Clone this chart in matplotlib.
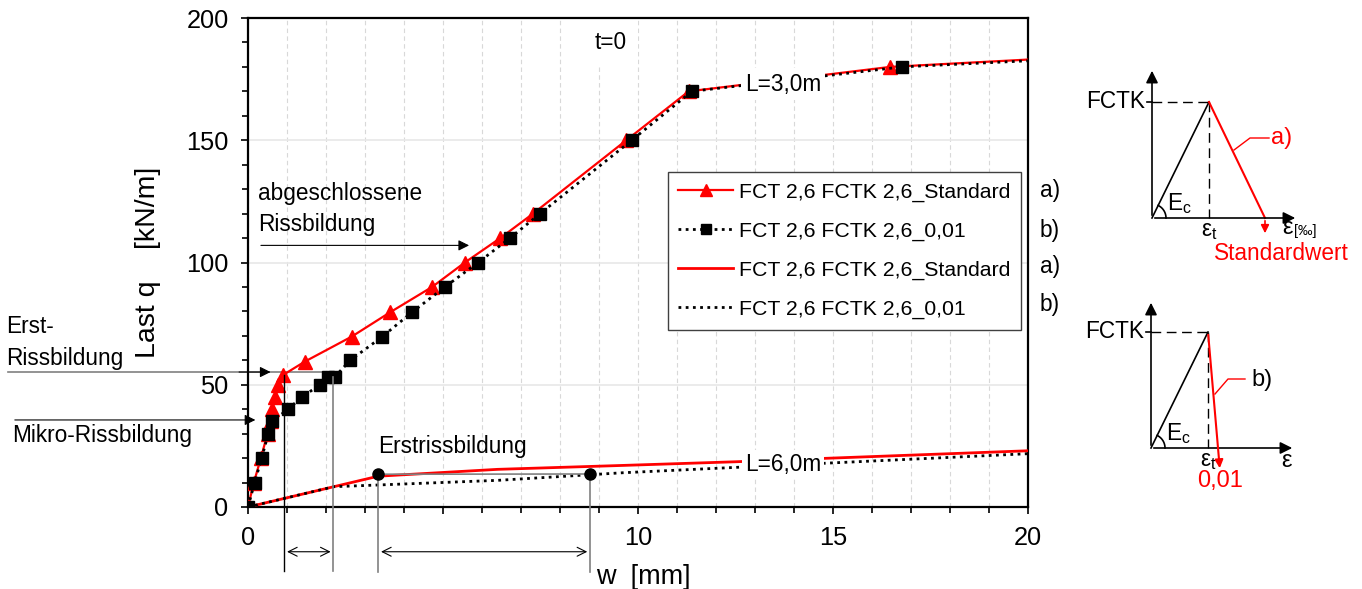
import numpy as np
import matplotlib
matplotlib.use("Agg")
import matplotlib.pyplot as plt
from matplotlib.ticker import MultipleLocator

plt.rcParams['font.family'] = ['Liberation Sans', 'DejaVu Sans']
plt.rcParams['mathtext.fontset'] = 'custom'
plt.rcParams['mathtext.rm'] = 'Liberation Sans'
plt.rcParams['mathtext.it'] = 'Liberation Sans:italic'

# L=3,0m, standard softening (a)
w_std_3 = [0, 0.15, 0.33, 0.5, 0.58, 0.62, 0.7, 0.78, 0.9, 1.46, 2.66, 3.64,
           4.72, 5.56, 6.47, 7.31, 9.7, 11.3, 16.47, 20.0]
q_std_3 = [0, 10, 20, 30, 35, 40, 45, 50, 54, 59.5, 69.7, 79.6,
           90, 100, 110, 120, 150, 170, 180, 183]
# L=3,0m, steep softening 0,01 (b)
w_001_3 = [0, 0.17, 0.35, 0.52, 0.61, 1.03, 1.38, 1.85, 2.06, 2.23, 2.62, 3.43,
           4.2, 5.05, 5.9, 6.72, 7.49, 9.84, 11.38, 16.77, 20.0]
q_001_3 = [0, 10, 20, 30, 35, 40, 45, 50, 53, 53.3, 60, 69.5,
           79.6, 90, 100, 110, 120, 150, 170, 180, 182.5]
# L=6,0m
w_std_6 = [0, 3.34, 6.4, 9.6, 12.5, 14.8, 20.0]
q_std_6 = [0, 12.6, 15.4, 17.0, 18.5, 19.9, 23.0]
w_001_6 = [0, 2.2, 6.4, 9.6, 12.5, 14.8, 20.0]
q_001_6 = [0, 8.3, 10.9, 14.0, 16.2, 17.9, 21.8]
# first cracking points L=6,0m
erst_w = [3.34, 8.77]
erst_q = [13.4, 13.5]

x_ticks = [0, 5, 10, 15, 20]
x_ticklabels = ['0', '', '10', '15', '20']

# guide lines (w positions)
w_mikro = 0.26
q_mikro = 35.6
w_erst_a = 0.93
w_erst_b = 2.19
q_erst = 55.2
q_erst_a = 54
q_erst_b = 53.3
w_abg = 5.74
q_abg = 107

fig = plt.figure(figsize=(13.62, 5.89), dpi=100)
ax = fig.add_axes([248/1362, 1-507/589, 780/1362, 489/589])

red = '#ff0000'
dot = (0, (1, 1.6))
fs = 16.3

l1, = ax.plot(w_std_3, q_std_3, color=red, lw=1.6, marker='^', ms=9.5,
              markevery=list(range(len(w_std_3) - 1)), zorder=3)
l2, = ax.plot(w_001_3, q_001_3, color='black', lw=2, ls=dot, marker='s', ms=8.5,
              markevery=list(range(len(w_001_3) - 1)), zorder=4)
l3, = ax.plot(w_std_6, q_std_6, color=red, lw=2, zorder=3)
l4, = ax.plot(w_001_6, q_001_6, color='black', lw=2, ls=dot, zorder=3)

# first cracking markers and guide lines, L=6,0m
ax.plot(erst_w, erst_q, color='gray', lw=1.2, zorder=4)
ax.plot(erst_w, erst_q, 'o', color='black', ms=8, zorder=5)
for w, q in zip(erst_w, erst_q):
    ax.plot([w, w], [q, -26.5], color='gray', lw=1.2, clip_on=False, zorder=4)
ax.annotate('', xy=(erst_w[0], -18.3), xytext=(erst_w[1], -18.3),
            arrowprops=dict(arrowstyle='<->', color='black', lw=0.8, mutation_scale=16),
            annotation_clip=False)

# first cracking L=3,0m
ax.plot([w_erst_a, w_erst_a], [q_erst_a, -26], color='black', lw=1.0, clip_on=False, zorder=4)
ax.plot([w_erst_b, w_erst_b], [q_erst_b, -26], color='gray', lw=1.2, clip_on=False, zorder=4)
ax.plot([-6.15, w_erst_b], [q_erst, q_erst], color='gray', lw=1.2, clip_on=False, zorder=2)
ax.annotate('', xy=(0.65, q_erst), xytext=(-0.3, q_erst),
            arrowprops=dict(arrowstyle='-|>', color='black', lw=0.8, mutation_scale=16),
            annotation_clip=False, zorder=5)
ax.annotate('', xy=(w_erst_a, -18.3), xytext=(w_erst_b, -18.3),
            arrowprops=dict(arrowstyle='<->', color='black', lw=0.8, mutation_scale=16),
            annotation_clip=False)

# micro cracking
ax.annotate('', xy=(w_mikro, q_mikro), xytext=(-6.05, q_mikro),
            arrowprops=dict(arrowstyle='-|>', color='black', lw=0.8, mutation_scale=16),
            annotation_clip=False, zorder=5)
ax.text(-6.05, 34.0, 'Mikro-Rissbildung', fontsize=fs, va='top', ha='left')
ax.text(-6.2, 56.0, 'Erst-\nRissbildung', fontsize=fs, va='bottom', ha='left', linespacing=1.5)

# abgeschlossene Rissbildung
ax.annotate('', xy=(w_abg, q_abg), xytext=(0.26, q_abg),
            arrowprops=dict(arrowstyle='-|>', color='black', lw=0.8, mutation_scale=16),
            zorder=5)
ax.text(0.26, 111, 'abgeschlossene\nRissbildung', fontsize=fs, va='bottom', ha='left',
        linespacing=1.45)

ax.text(3.33, 20, 'Erstrissbildung', fontsize=fs, va='bottom', ha='left')
ax.text(9.3, 190, 't=0', fontsize=fs, ha='center', va='center',
        bbox=dict(facecolor='white', edgecolor='none', pad=8), zorder=6)
ax.text(13.72, 173, 'L=3,0m', fontsize=fs, ha='center', va='center',
        bbox=dict(facecolor='white', edgecolor='none', pad=3), zorder=6)
ax.text(13.72, 17.4, 'L=6,0m', fontsize=fs, ha='center', va='center',
        bbox=dict(facecolor='white', edgecolor='none', pad=2), zorder=6)

ax.set_xlim(0, 20)
ax.set_ylim(0, 200)
ax.set_xticks(x_ticks)
ax.set_xticklabels(x_ticklabels)
ax.xaxis.set_minor_locator(MultipleLocator(1))
ax.yaxis.set_major_locator(MultipleLocator(50))
ax.yaxis.set_minor_locator(MultipleLocator(10))
ax.tick_params(which='both', direction='out', labelsize=18.3, width=1.2, length=5, pad=9)
ax.tick_params(which='minor', length=4)
ax.grid(axis='x', which='both', color='#d8d8d8', ls=(0, (4, 3)), lw=0.8)
ax.grid(axis='y', which='major', color='#e8e8e8', ls='-', lw=1.2)
for s in ax.spines.values():
    s.set_linewidth(1.6)
ax.set_ylabel('Last q    [kN/m]', fontsize=20.5)
ax.yaxis.set_label_coords(-0.112, 0.50)
fig.text(643/1362, 1-577/589, 'w  [mm]', fontsize=19.5, ha='center', va='center')

leg = ax.legend([l1, l2, l3, l4],
                ['FCT 2,6 FCTK 2,6_Standard', 'FCT 2,6 FCTK 2,6_0,01',
                 'FCT 2,6 FCTK 2,6_Standard', 'FCT 2,6 FCTK 2,6_0,01'],
                loc='upper right', bbox_to_anchor=(1021/1362, 1-172/589),
                bbox_transform=fig.transFigure, fontsize=15.3, frameon=True,
                fancybox=False, edgecolor='#404040', framealpha=1, numpoints=1,
                handlelength=2.55, handletextpad=0.3, labelspacing=0.93,
                borderpad=0.5, borderaxespad=0, markerscale=0.85)
leg.get_frame().set_linewidth(1.0)
leg.set_zorder(7)

# overlay in pixel coordinates for the side sketches
ov = fig.add_axes([0, 0, 1, 1], zorder=-1)
ov.set_xlim(0, 1362)
ov.set_ylim(589, 0)
ov.axis('off')

for lab, yy in zip(['a)', 'b)', 'a)', 'b)'], [191, 230, 267, 305]):
    ov.text(1040, yy, lab, fontsize=fs, va='center', ha='left')


def sketch(x0, y0, ytop, xend, yf, xp):
    arr = dict(arrowstyle='-|>', color='black', lw=1.2, mutation_scale=18)
    ov.annotate('', xy=(x0, ytop), xytext=(x0, y0), arrowprops=arr)
    ov.annotate('', xy=(xend, y0), xytext=(x0, y0), arrowprops=arr)
    ov.plot([x0 - 5, x0], [yf, yf], color='black', lw=1.2)
    ov.text(x0 - 7, yf, 'FCTK', fontsize=fs, ha='right', va='center')
    ov.plot([x0, xp], [y0, yf], color='black', lw=1.2)
    ov.plot([x0, xp], [yf, yf], color='black', lw=1.0, ls=(0, (7, 4)))
    ov.plot([xp, xp], [yf, y0], color='black', lw=1.0, ls=(0, (7, 4)))
    ang = np.arctan2(y0 - yf, xp - x0)
    t = np.linspace(0, ang, 30)
    ov.plot(x0 + 14 * np.cos(t), y0 - 14 * np.sin(t), color='black', lw=1.2)
    ov.text(x0 + 15, y0 - 2, 'E$_\\mathregular{c}$', fontsize=fs, ha='left', va='bottom')
    ov.text(xp, y0 + 1, 'ε$_\\mathregular{t}$', fontsize=fs, ha='center', va='top')


# sketch a) standard softening
sketch(1152, 218, 68, 1298, 102, 1209)
ov.plot([1209, 1265], [102, 218], color=red, lw=1.5)
ov.annotate('', xy=(1265, 236), xytext=(1265, 218),
            arrowprops=dict(arrowstyle='-|>', color=red, lw=1.2, mutation_scale=12))
ov.plot([1234, 1250, 1269], [150, 138, 138], color=red, lw=1.0)
ov.text(1271, 138, 'a)', fontsize=17, color=red, va='center', ha='left')
ov.text(1282, 228, 'ε', fontsize=17, ha='left', va='center')
ov.text(1294, 231, '[‰]', fontsize=10.5, ha='left', va='center')
ov.text(1281, 253, 'Standardwert', fontsize=fs, color=red, ha='center', va='center')

# sketch b) steep softening 0,01
sketch(1151, 448, 300, 1295, 332, 1208)
ov.annotate('', xy=(1220, 471), xytext=(1208, 332),
            arrowprops=dict(arrowstyle='-|>', color=red, lw=1.5, mutation_scale=12))
ov.plot([1215, 1228, 1245], [394, 379, 379], color=red, lw=1.0)
ov.text(1251, 380, 'b)', fontsize=17, color='black', va='center', ha='left')
ov.text(1286, 461, 'ε', fontsize=17, ha='center', va='center')
ov.text(1220, 481, '0,01', fontsize=17, color=red, ha='center', va='center')

fig.savefig('out.png', dpi=100)
